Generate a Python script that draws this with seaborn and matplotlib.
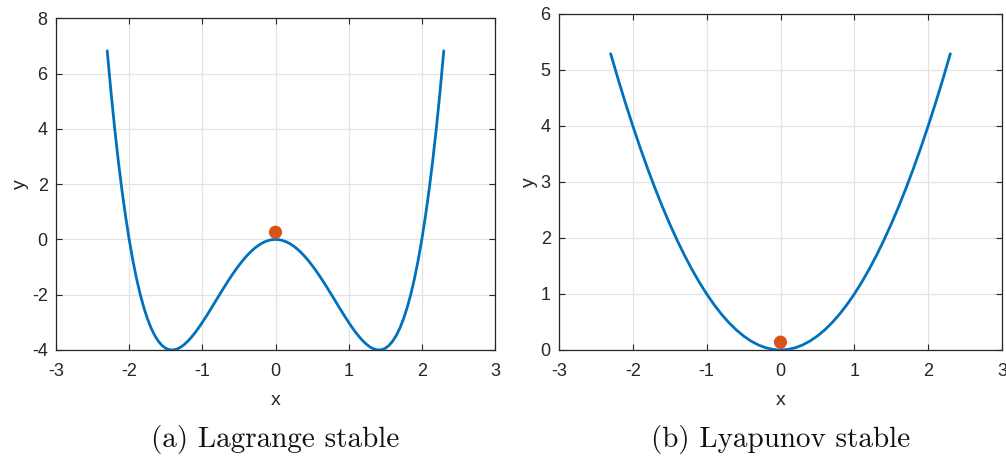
import matplotlib
matplotlib.use("Agg")
import matplotlib.pyplot as plt
import seaborn as sns
import pandas as pd

# ---- data ----
x_left = [-2.30, -2.25, -2.20, -2.15, -2.10, -2.05, -2.00, -1.95, -1.90, -1.85,
          -1.80, -1.75, -1.70, -1.65, -1.60, -1.55, -1.50, -1.45, -1.40, -1.35,
          -1.30, -1.25, -1.20, -1.15, -1.10, -1.05, -1.00, -0.95, -0.90, -0.85,
          -0.80, -0.75, -0.70, -0.65, -0.60, -0.55, -0.50, -0.45, -0.40, -0.35,
          -0.30, -0.25, -0.20, -0.15, -0.10, -0.05, 0.00, 0.05, 0.10, 0.15,
          0.20, 0.25, 0.30, 0.35, 0.40, 0.45, 0.50, 0.55, 0.60, 0.65,
          0.70, 0.75, 0.80, 0.85, 0.90, 0.95, 1.00, 1.05, 1.10, 1.15,
          1.20, 1.25, 1.30, 1.35, 1.40, 1.45, 1.50, 1.55, 1.60, 1.65,
          1.70, 1.75, 1.80, 1.85, 1.90, 1.95, 2.00, 2.05, 2.10, 2.15,
          2.20, 2.25, 2.30]
y_left = [6.824, 5.379, 4.066, 2.878, 1.808, 0.851, 0.000, -0.751, -1.408, -1.977,
          -2.462, -2.871, -3.208, -3.478, -3.686, -3.838, -3.938, -3.990, -3.998, -3.969,
          -3.904, -3.809, -3.686, -3.541, -3.376, -3.195, -3.000, -2.796, -2.584, -2.368,
          -2.150, -1.934, -1.720, -1.512, -1.310, -1.119, -0.938, -0.769, -0.614, -0.475,
          -0.352, -0.246, -0.158, -0.090, -0.040, -0.010, 0.000, -0.010, -0.040, -0.090,
          -0.158, -0.246, -0.352, -0.475, -0.614, -0.769, -0.938, -1.119, -1.310, -1.512,
          -1.720, -1.934, -2.150, -2.368, -2.584, -2.796, -3.000, -3.195, -3.376, -3.541,
          -3.686, -3.809, -3.904, -3.969, -3.998, -3.990, -3.938, -3.838, -3.686, -3.478,
          -3.208, -2.871, -2.462, -1.977, -1.408, -0.751, 0.000, 0.851, 1.808, 2.878,
          4.066, 5.379, 6.824]
point_left = (0.0, 0.26)

x_right = [-2.3, -2.2, -2.1, -2.0, -1.9, -1.8, -1.7, -1.6, -1.5, -1.4, -1.3, -1.2,
           -1.1, -1.0, -0.9, -0.8, -0.7, -0.6, -0.5, -0.4, -0.3, -0.2, -0.1, 0.0,
           0.1, 0.2, 0.3, 0.4, 0.5, 0.6, 0.7, 0.8, 0.9, 1.0, 1.1, 1.2,
           1.3, 1.4, 1.5, 1.6, 1.7, 1.8, 1.9, 2.0, 2.1, 2.2, 2.3]
y_right = [5.29, 4.84, 4.41, 4.00, 3.61, 3.24, 2.89, 2.56, 2.25, 1.96, 1.69, 1.44,
           1.21, 1.00, 0.81, 0.64, 0.49, 0.36, 0.25, 0.16, 0.09, 0.04, 0.01, 0.00,
           0.01, 0.04, 0.09, 0.16, 0.25, 0.36, 0.49, 0.64, 0.81, 1.00, 1.21, 1.44,
           1.69, 1.96, 2.25, 2.56, 2.89, 3.24, 3.61, 4.00, 4.41, 4.84, 5.29]
point_right = (0.0, 0.14)

xticks = [-3, -2, -1, 0, 1, 2, 3]
yticks_left = [-4, -2, 0, 2, 4, 6, 8]
yticks_right = [0, 1, 2, 3, 4, 5, 6]
captions = ["(a) Lagrange stable", "(b) Lyapunov stable"]

LINE_C = "#0072BD"
DOT_C = "#D95319"
AX_C = "#262626"

sns.set_style("white")
plt.rcParams["font.family"] = ["Liberation Sans", "DejaVu Sans"]

fig = plt.figure(figsize=(10.06, 4.58), dpi=100)
ax1 = fig.add_axes([56 / 1006, 108 / 458, 439 / 1006, 331.7 / 458])
ax2 = fig.add_axes([559 / 1006, 108 / 458, 443 / 1006, 336 / 458])

panels = [
    (ax1, x_left, y_left, point_left, yticks_left, (-4, 8), captions[0]),
    (ax2, x_right, y_right, point_right, yticks_right, (0, 6), captions[1]),
]

for ax, xs, ys, pt, yt, ylim, cap in panels:
    df = pd.DataFrame({"x": xs, "y": ys})
    sns.lineplot(data=df, x="x", y="y", ax=ax, sort=False, color=LINE_C,
                 linewidth=2.0, zorder=3)
    sns.scatterplot(x=[pt[0]], y=[pt[1]], ax=ax, color=DOT_C, s=90,
                    edgecolor="none", zorder=4)
    ax.set_xlim(-3, 3)
    ax.set_ylim(*ylim)
    ax.set_xticks(xticks)
    ax.set_yticks(yt)
    ax.set_xticklabels([str(t) for t in xticks])
    ax.set_yticklabels([str(t) for t in yt])
    ax.grid(True, color="#e3e3e3", linewidth=0.9)
    ax.set_axisbelow(True)
    for sp in ax.spines.values():
        sp.set_visible(True)
        sp.set_color(AX_C)
        sp.set_linewidth(0.9)
    ax.tick_params(direction="in", length=4, width=0.8, colors=AX_C,
                   labelsize=13, top=True, right=True, bottom=True, left=True,
                   labelcolor=AX_C)
    ax.tick_params(axis="x", pad=9)
    ax.tick_params(axis="y", pad=6)
    ax.set_xlabel("x", fontsize=14, color=AX_C, labelpad=9)
    ax.set_ylabel("y", fontsize=14, color=AX_C, labelpad=2)
    bb = ax.get_position()
    fig.text((bb.x0 + bb.x1) / 2, 18 / 458, cap, ha="center", va="center",
             fontsize=21, family="cmr10", color="#111111")

fig.savefig("out.png", dpi=100)
